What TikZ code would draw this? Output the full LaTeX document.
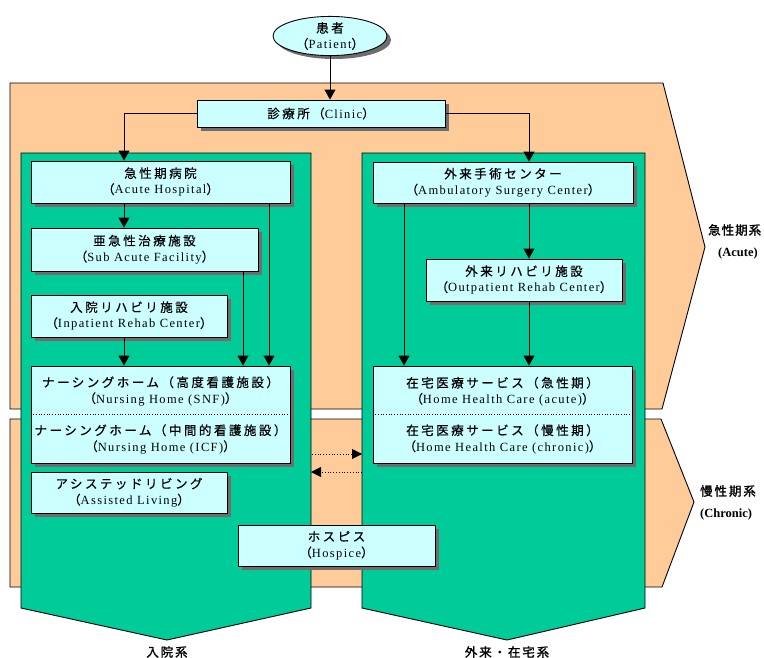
\documentclass[tikz,border=0pt]{standalone}
\usepackage{fontspec}
\setmainfont{Liberation Serif}
\newfontfamily\jp[LetterSpace=20,FakeBold=0.6]{Noto Sans CJK JP}
\newfontfamily\jpb[LetterSpace=15,FakeBold=1.5]{Noto Sans CJK JP}
\newfontfamily\jpbn[LetterSpace=8,FakeBold=1.5]{Noto Sans CJK JP}
\newfontfamily\en[LetterSpace=11]{Liberation Serif}
\usetikzlibrary{arrows.meta,shapes.geometric}
\definecolor{orng}{HTML}{FFCC99}
\definecolor{grnc}{HTML}{00CC99}
\definecolor{boxc}{HTML}{CCFFFF}
\definecolor{shc}{HTML}{6E6E6E}
\newcommand{\bx}[2]{{\jp #1}\\{\jp （}{\en #2}{\jp ）}}
\newcommand{\shbox}[6]{%
  \fill[shc] ({#2-#4/2+4},{#3-#5/2+4}) rectangle ({#2+#4/2+4},{#3+#5/2+4});
  \node[box,minimum width=#4pt,minimum height=#5pt] (#1) at (#2,#3) {#6};}
\begin{document}
\begin{tikzpicture}[x=1pt,y=-1pt,
  orshape/.style={draw=black,line width=0.9pt,fill=orng},
  grshape/.style={draw=black,line width=0.9pt,fill=grnc},
  box/.style={draw=black,line width=0.9pt,fill=boxc,inner sep=0pt,align=center,
    font=\fontsize{12.5}{16}\selectfont},
  txt/.style={inner sep=0pt,align=center,font=\fontsize{12.5}{16}\selectfont},
  lbl/.style={inner sep=0pt,font=\fontsize{12.5}{16}\selectfont},
  arr/.style={line width=0.9pt,-{Triangle[width=11pt,length=10pt]}},
  darr/.style={line width=0.8pt,dotted,-{Triangle[width=10pt,length=10pt]}}
]
\useasboundingbox (0,0) rectangle (764,657);
\fill[white] (0,0) rectangle (764,657);
% phase bands
\draw[orshape] (10,83) -- (663,83) -- (705,247) -- (662,409) -- (10,409) -- cycle;
\draw[orshape] (10,419) -- (661,419) -- (694,502) -- (662,587) -- (10,587) -- cycle;
% panels
\draw[grshape] (21,153) -- (311,153) -- (311,608) -- (167,640) -- (21,608) -- cycle;
\draw[grshape] (362,153) -- (645,153) -- (645,608) -- (507,640) -- (362,608) -- cycle;

% column coordinates
\coordinate (lc) at (124,0);
\coordinate (ac) at (269,0);
\coordinate (sc) at (243,0);
\coordinate (rc) at (529,0);
\coordinate (rl) at (404,0);

% nodes
\fill[shc] (334,40) ellipse [x radius=57, y radius=19];
\node[ellipse,draw=black,line width=0.9pt,fill=boxc,minimum width=114pt,minimum height=38pt,
  inner sep=0pt,align=center,font=\fontsize{12.5}{16}\selectfont] (patient) at (330,36)
  {\bx{患者}{Patient}};
\shbox{clinic}{321}{113.5}{248}{27}{{\jp 診療所（}{\en Clinic}{\jp ）}}
\shbox{acute}{160.5}{182}{259}{42}{\bx{急性期病院}{Acute Hospital}}
\shbox{subacute}{144.5}{249.5}{227}{43}{\bx{亜急性治療施設}{Sub Acute Facility}}
\shbox{inpat}{129}{316}{196}{42}{\bx{入院リハビリ施設}{Inpatient Rehab Center}}
\shbox{nursing}{160.5}{414.5}{259}{97}{}
\node[txt] (nsnf) at (160.5,391) {\bx{ナーシングホーム（高度看護施設）}{Nursing Home (SNF)}};
\node[txt] (nicf) at (160.5,439) {\bx{ナーシングホーム（中間的看護施設）}{Nursing Home (ICF)}};
\draw[dotted,line width=0.7pt] (nursing.west |- 0,414) -- (nursing.east |- 0,414);
\shbox{assisted}{129}{492.5}{196}{41}{\bx{アシステッドリビング}{Assisted Living}}
\shbox{asc}{503}{182.5}{260}{41}{\bx{外来手術センター}{Ambulatory Surgery Center}}
\shbox{outrehab}{524}{280}{196}{42}{\bx{外来リハビリ施設}{Outpatient Rehab Center}}
\shbox{hhc}{502.5}{414.5}{259}{97}{}
\node[txt] (hhca) at (502.5,391.5) {\bx{在宅医療サービス（急性期）}{Home Health Care (acute)}};
\node[txt] (hhcc) at (502.5,439) {\bx{在宅医療サービス（慢性期）}{Home Health Care (chronic)}};
\draw[dotted,line width=0.7pt] (hhc.west |- 0,414) -- (hhc.east |- 0,414);
\shbox{hospice}{336.5}{545.5}{197}{41}{\bx{ホスピス}{Hospice}}

% connectors
\draw[arr] (patient.south) -- (patient.south |- clinic.north);
\draw[arr] (clinic.west) -| (lc |- acute.north);
\draw[arr] (clinic.east) -| (rc |- asc.north);
\draw[arr] (lc |- acute.south) -- (lc |- subacute.north);
\draw[arr] (lc |- inpat.south) -- (lc |- nursing.north);
\draw[arr] (sc |- subacute.south) -- (sc |- nursing.north);
\draw[arr] (ac |- acute.south) -- (ac |- nursing.north);
\draw[arr] (rc |- asc.south) -- (rc |- outrehab.north);
\draw[arr] (rc |- outrehab.south) -- (rc |- hhc.north);
\draw[arr] (rl |- asc.south) -- (rl |- hhc.north);
\coordinate (d1s) at (312,454);
\coordinate (d1e) at (362,454);
\coordinate (d2s) at (362,472);
\coordinate (d2e) at (311,472);
\draw[darr] (d1s) -- (d1e);
\draw[darr] (d2s) -- (d2e);

% labels
\node[lbl,anchor=west] (acutelbl) at (708,230) {\jpbn 急性期系};
\node[lbl,anchor=west] (acuteen) at (718,253) {\bfseries (Acute)};
\node[lbl,anchor=west] (chronlbl) at (700,491) {\jpb 慢性期系};
\node[lbl,anchor=west] (chronen) at (700,514) {\bfseries (Chronic)};
\node[lbl] (inlbl) at (167,652) {\jpb 入院系};
\node[lbl] (outlbl) at (507,652) {\jpb 外来・在宅系};
\end{tikzpicture}
\end{document}
